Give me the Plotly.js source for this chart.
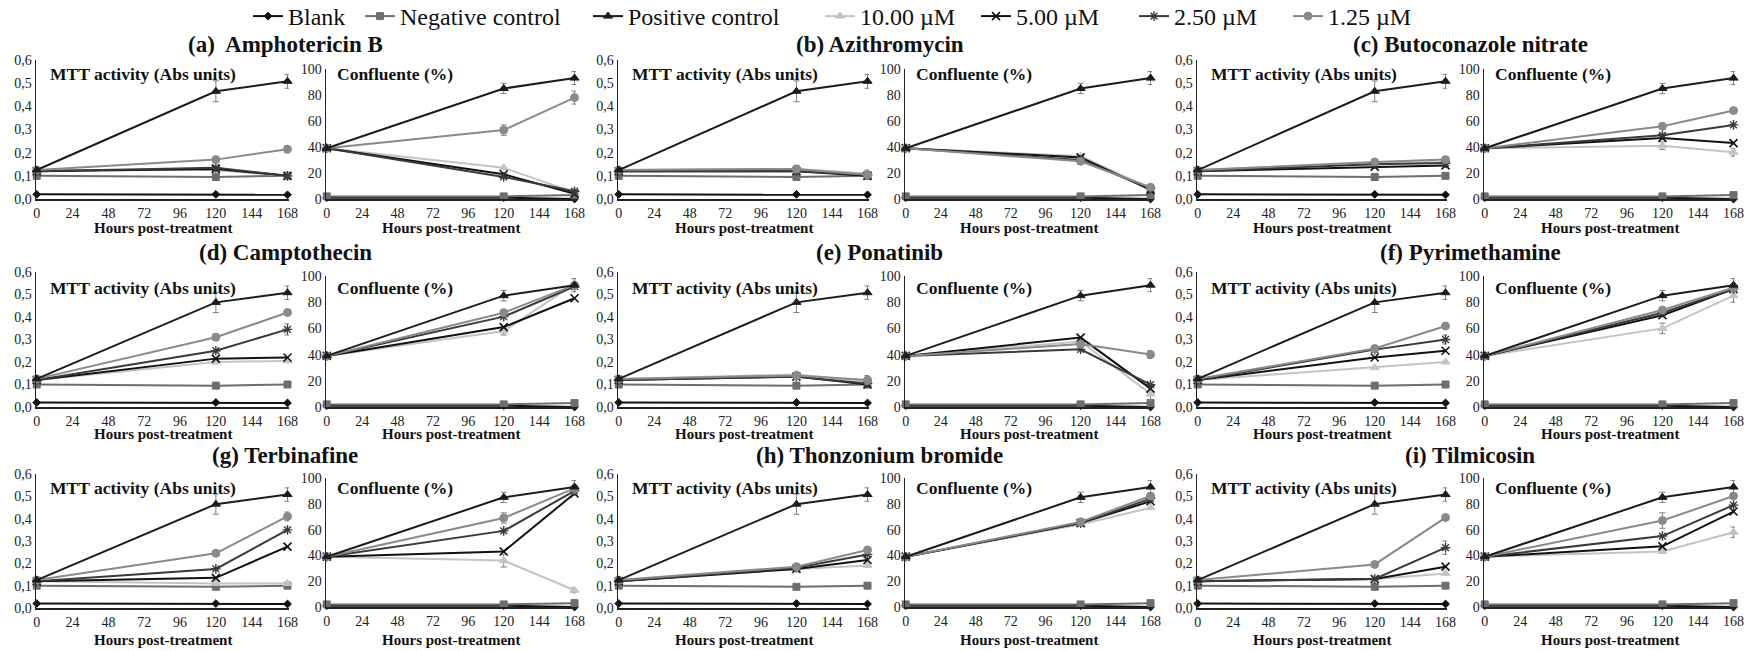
<!DOCTYPE html>
<html>
<head>
<meta charset="utf-8">
<script src="https://cdn.plot.ly/plotly-3.0.1.min.js"></script>
<style>html,body{margin:0;padding:0;background:#fff;overflow:hidden;}#chart{width:1753px;height:657px;margin-top:-6px;}</style>
</head>
<body>
<div id="chart"></div>
<script>
// ---------------- DATA ----------------
const hours = [0, 120, 168];
const xTickVals = [0, 24, 48, 72, 96, 120, 144, 168];
const xTickText = ['0', '24', '48', '72', '96', '120', '144', '168'];
const mttTickVals = [0, 0.1, 0.2, 0.3, 0.4, 0.5, 0.6];
const mttTickText = ['0,0', '0,1', '0,2', '0,3', '0,4', '0,5', '0,6'];
const confTickVals = [0, 20, 40, 60, 80, 100];
const confTickText = ['0', '20', '40', '60', '80', '100'];

const seriesNames = ['Blank', 'Negative control', 'Positive control', '10.00 µM', '5.00 µM', '2.50 µM', '1.25 µM'];
const panelTitles = ['(a)  Amphotericin B', '(b) Azithromycin', '(c) Butoconazole nitrate',
                     '(d) Camptothecin', '(e) Ponatinib', '(f) Pyrimethamine',
                     '(g) Terbinafine', '(h) Thonzonium bromide', '(i) Tilmicosin'];
const mttHeader = 'MTT activity (Abs units)';
const confHeader = 'Confluente (%)';
const xAxisLabel = 'Hours post-treatment';

// controls (shared by every panel)
const mttBlank = [0.02, 0.02, 0.018];
const mttNegative = [0.10, 0.095, 0.10];
const mttPositive = [0.125, 0.465, 0.508];
const mttPositiveErr = [0.01, 0.045, 0.03];
const confBlank = [1, 1, 0];
const confNegative = [2, 2, 3];
const confPositive = [39, 85, 93];
const confPositiveErr = [1, 4, 5];

// treatments, one triplet (0 h, 120 h, 168 h) per panel a..i
const mtt10 = [[0.125,0.125,0.10],[0.125,0.13,0.11],[0.125,0.155,0.16],[0.12,0.20,0.205],[0.125,0.145,0.115],[0.12,0.175,0.20],[0.12,0.11,0.11],[0.12,0.175,0.19],[0.12,0.13,0.155]];
const mtt5 = [[0.12,0.13,0.10],[0.12,0.12,0.10],[0.12,0.14,0.145],[0.12,0.215,0.22],[0.12,0.135,0.10],[0.12,0.22,0.25],[0.12,0.135,0.275],[0.12,0.175,0.215],[0.12,0.13,0.185]];
const mtt25 = [[0.12,0.135,0.10],[0.12,0.12,0.105],[0.12,0.15,0.155],[0.12,0.25,0.345],[0.12,0.135,0.105],[0.12,0.255,0.30],[0.12,0.175,0.35],[0.12,0.18,0.24],[0.12,0.13,0.27]];
const mtt125 = [[0.125,0.17,0.215],[0.125,0.13,0.105],[0.125,0.16,0.17],[0.125,0.31,0.42],[0.125,0.14,0.12],[0.125,0.26,0.36],[0.125,0.245,0.41],[0.125,0.185,0.26],[0.125,0.195,0.405]];
const conf10 = [[39,24,5],[39,33,8],[39,41,36],[39,58,94],[39,50,10],[39,60,85],[39,36,13],[39,64,77],[39,43,58]];
const conf5 = [[39,19,4],[39,32,7],[39,47,43],[39,61,83],[39,53,14],[39,70,90],[39,43,88],[39,65,82],[39,47,74]];
const conf25 = [[39,17,6],[39,30,8],[39,49,57],[39,69,92],[39,44,17],[39,72,90],[39,59,90],[39,65,84],[39,55,79]];
const conf125 = [[39,53,78],[39,29,9],[39,56,68],[39,72,93],[39,48,40],[39,74,91],[39,69,92],[39,66,86],[39,67,86]];

// visible error bars on some treated points
const mtt125Err = [[0.01,0,0.015],[0.01,0.015,0.02],[0.01,0,0],[0.01,0.015,0],[0.01,0.015,0.02],[0.01,0,0],[0.01,0,0.02],[0.01,0,0],[0.01,0,0]];
const mtt25Err = [[0,0,0],[0,0,0],[0,0,0],[0,0,0.025],[0,0,0],[0,0,0.02],[0,0,0],[0,0,0],[0,0,0.03]];
const conf125Err = [[0,4,5],[0,0,0],[0,0,0],[0,0,0],[0,0,3],[0,0,0],[0,4,0],[0,0,0],[0,6,0]];
const conf10Err = [[0,0,0],[0,0,0],[0,3,3],[0,3,4],[0,0,5],[0,4,5],[0,5,2],[0,0,0],[0,0,4]];

// ---------------- LAYOUT / STYLE ----------------
const OFF = 6;                 // the plot div is lifted by OFF px (lets the legend sit at the very top)
const W = 1753, H = 651 + OFF;
const px = v => v / W;
const py = v => 1 - (v + OFF) / H;
const FONT = '"Liberation Serif", "Times New Roman", serif';

// pixel boxes (screen px)
const colMtt = [[36, 289], [618, 869], [1197, 1447]];
const colConf = [[326, 576], [905, 1152], [1484, 1735]];
const rowMtt = [[60, 199], [272, 407], [474, 608]];
const rowConf = [[69, 199], [276, 407], [478, 607]];
const rowTitleY = [44, 252, 455];
const rowHeaderY = [74, 288, 488];
const rowXLabelY = [228, 434, 640];
const colTitleX = [285, 880, 1470];
// legend entry text start positions (px) for Blank, Negative, Positive, 10, 5, 2.5, 1.25
const legendTextX = [290, 402, 630, 862, 1018, 1176, 1330];

const styles = [
  {color: '#111111', symbol: 'diamond', size: 6, lw: 1},
  {color: '#6e6e6e', symbol: 'square', size: 7, lw: 1},
  {color: '#1c1c1c', symbol: 'triangle-up', size: 8, lw: 1},
  {color: '#c4c4c4', symbol: 'triangle-up', size: 8, lw: 1},
  {color: '#111111', symbol: 'x-thin-open', size: 8, lw: 1.6},
  {color: '#3a3a3a', symbol: 'asterisk-open', size: 8, lw: 1.4},
  {color: '#8a8a8a', symbol: 'circle', size: 8, lw: 1}
];

const traces = [];
const layout = {
  width: W, height: H,
  margin: {l: 0, r: 0, t: 0, b: 0},
  paper_bgcolor: '#ffffff', plot_bgcolor: 'rgba(0,0,0,0)',
  font: {family: FONT, color: '#1a1a1a', size: 14},
  showlegend: true,
  annotations: []
};
// one small legend per series, so each entry can sit where the reference puts it
seriesNames.forEach((nm, i) => {
  const key = i === 0 ? 'legend' : 'legend' + (i + 1);
  layout[key] = {orientation: 'h', x: px(legendTextX[i] - 42), y: 1, xanchor: 'left', yanchor: 'top',
                 font: {family: FONT, size: 24, color: '#111'}, bgcolor: 'rgba(0,0,0,0)', itemwidth: 30};
});

function addTrace(axisIdx, idx, y, err, showLegend) {
  const s = styles[idx];
  const name = seriesNames[idx];
  const sfx = axisIdx === 1 ? '' : String(axisIdx);
  const t = {
    type: 'scatter', mode: 'lines+markers', name: name, legendgroup: name,
    legend: idx === 0 ? 'legend' : 'legend' + (idx + 1),
    showlegend: showLegend, x: hours, y: y, cliponaxis: false,
    xaxis: 'x' + sfx, yaxis: 'y' + sfx,
    line: {color: s.color, width: 2},
    marker: {color: s.color, symbol: s.symbol, size: s.size, line: {color: s.color, width: s.lw}},
    hoverinfo: 'skip'
  };
  if (err) t.error_y = {type: 'data', array: err, visible: true, color: '#808080', thickness: 1, width: 3};
  traces.push(t);
}

function axisBase() {
  return {showgrid: false, zeroline: false, showline: true, linecolor: '#222', ticks: '',
          tickfont: {family: FONT, size: 14, color: '#222'}, fixedrange: true};
}

function annot(text, x, y, size, anchor) {
  layout.annotations.push({text: '<b>' + text + '</b>', xref: 'paper', yref: 'paper',
    x: px(x), y: py(y), xanchor: anchor, yanchor: 'middle', showarrow: false,
    font: {family: FONT, size: size, color: '#111'}});
}

let axisIdx = 1;
for (let p = 0; p < 9; p++) {
  const r = Math.floor(p / 3), c = p % 3;
  // --- MTT subplot
  const m = axisIdx;
  const ms = m === 1 ? '' : String(m);
  layout['xaxis' + ms] = Object.assign(axisBase(), {
    domain: [px(colMtt[c][0]), px(colMtt[c][1])], anchor: 'y' + ms,
    range: [-0.5, 169], tickvals: xTickVals, ticktext: xTickText, linewidth: 2});
  layout['yaxis' + ms] = Object.assign(axisBase(), {
    domain: [py(rowMtt[r][1]), py(rowMtt[r][0])], anchor: 'x' + ms,
    range: [0, 0.6], tickvals: mttTickVals, ticktext: mttTickText, linewidth: 1.5});
  const leg = p === 0;
  addTrace(m, 0, mttBlank, null, leg);
  addTrace(m, 1, mttNegative, null, leg);
  addTrace(m, 3, mtt10[p], null, leg);
  addTrace(m, 4, mtt5[p], null, leg);
  addTrace(m, 5, mtt25[p], mtt25Err[p], leg);
  addTrace(m, 6, mtt125[p], mtt125Err[p], leg);
  addTrace(m, 2, mttPositive, mttPositiveErr, leg);
  // --- Confluence subplot
  const k = axisIdx + 1;
  const ks = String(k);
  layout['xaxis' + ks] = Object.assign(axisBase(), {
    domain: [px(colConf[c][0]), px(colConf[c][1])], anchor: 'y' + ks,
    range: [-0.5, 169], tickvals: xTickVals, ticktext: xTickText, linewidth: 2});
  layout['yaxis' + ks] = Object.assign(axisBase(), {
    domain: [py(rowConf[r][1]), py(rowConf[r][0])], anchor: 'x' + ks,
    range: [0, 100], tickvals: confTickVals, ticktext: confTickText, linewidth: 1.5});
  addTrace(k, 0, confBlank, null, false);
  addTrace(k, 1, confNegative, null, false);
  addTrace(k, 3, conf10[p], conf10Err[p], false);
  addTrace(k, 4, conf5[p], null, false);
  addTrace(k, 5, conf25[p], null, false);
  addTrace(k, 6, conf125[p], conf125Err[p], false);
  addTrace(k, 2, confPositive, confPositiveErr, false);
  axisIdx += 2;

  annot(panelTitles[p], colTitleX[c], rowTitleY[r], 23, 'center');
  annot(mttHeader, colMtt[c][0] + 12, rowHeaderY[r], 17.5, 'left');
  annot(confHeader, colConf[c][0] + 9, rowHeaderY[r], 17.5, 'left');
  annot(xAxisLabel, (colMtt[c][0] + colMtt[c][1]) / 2, rowXLabelY[r], 15, 'center');
  annot(xAxisLabel, (colConf[c][0] + colConf[c][1]) / 2, rowXLabelY[r], 15, 'center');
}

Plotly.newPlot('chart', traces, layout, {staticPlot: true, displayModeBar: false});
</script>
</body>
</html>
